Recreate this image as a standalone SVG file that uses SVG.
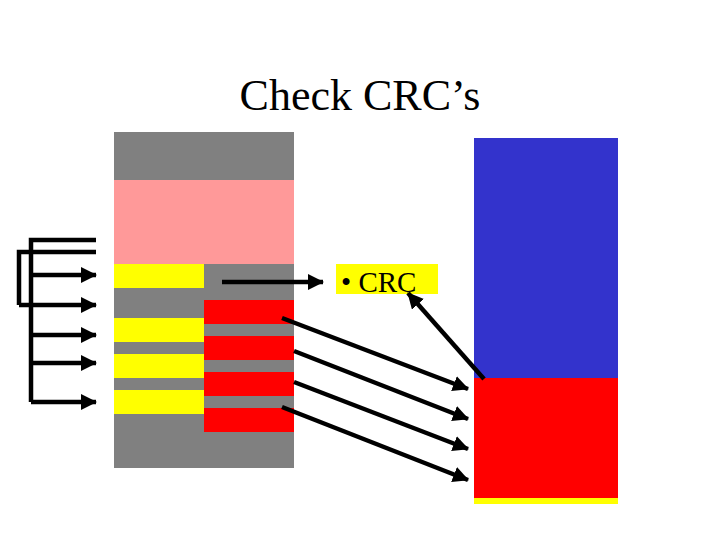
<svg xmlns="http://www.w3.org/2000/svg" width="720" height="540" viewBox="0 0 720 540">
<style>
.ln{stroke:#000;stroke-width:4.5;fill:none}
.gray{fill:#808080}.pink{fill:#FF9999}.yel{fill:#FFFF00}.red{fill:#FF0000}.blue{fill:#3333CC}
text{font-family:"Liberation Serif","Times New Roman",serif;fill:#000}
</style>
<defs>
<marker id="ah" markerUnits="userSpaceOnUse" markerWidth="16" markerHeight="16" viewBox="0 0 16 16" refX="15" refY="8" orient="auto">
<path d="M0,0 L16,8 L0,16 Z" fill="#000"/>
</marker>
</defs>
<rect width="720" height="540" fill="#fff"/>
<text x="360" y="110" font-size="44" text-anchor="middle">Check CRC’s</text>
<g id="packet">
<rect class="gray" x="114" y="132" width="180" height="336"/>
<rect class="pink" x="114" y="180" width="180" height="84"/>
<rect class="yel" x="114" y="264" width="90" height="24"/>
<rect class="yel" x="114" y="318" width="90" height="24"/>
<rect class="yel" x="114" y="354" width="90" height="24"/>
<rect class="yel" x="114" y="390" width="90" height="24"/>
<rect class="red" x="204" y="300" width="90" height="24"/>
<rect class="red" x="204" y="336" width="90" height="24"/>
<rect class="red" x="204" y="372" width="90" height="24"/>
<rect class="red" x="204" y="408" width="90" height="24"/>
</g>
<g id="storage">
<rect class="blue" x="474" y="138" width="144" height="240"/>
<rect class="red" x="474" y="378" width="144" height="120"/>
<rect class="yel" x="474" y="498" width="144" height="6"/>
</g>
<g id="crc">
<rect class="yel" x="336" y="264" width="102" height="30"/>
<text x="341" y="292" font-size="29">• CRC</text>
</g>
<g id="connectors">
<path class="ln" d="M96,240 H31 V402"/>
<path class="ln" d="M96,252 H19 V305"/>
<path class="ln" d="M31,275 H96" marker-end="url(#ah)"/>
<path class="ln" d="M19,305 H96" marker-end="url(#ah)"/>
<path class="ln" d="M31,335 H96" marker-end="url(#ah)"/>
<path class="ln" d="M31,363 H96" marker-end="url(#ah)"/>
<path class="ln" d="M31,402 H96" marker-end="url(#ah)"/>
<path class="ln" d="M222,282 H323" marker-end="url(#ah)"/>
<path class="ln" d="M282,318 L468,389" marker-end="url(#ah)"/>
<path class="ln" d="M294,351 L468,419" marker-end="url(#ah)"/>
<path class="ln" d="M294,382 L468,449" marker-end="url(#ah)"/>
<path class="ln" d="M282,407 L468,480" marker-end="url(#ah)"/>
<path class="ln" d="M484,379 L408,293" marker-end="url(#ah)"/>
</g>
</svg>
